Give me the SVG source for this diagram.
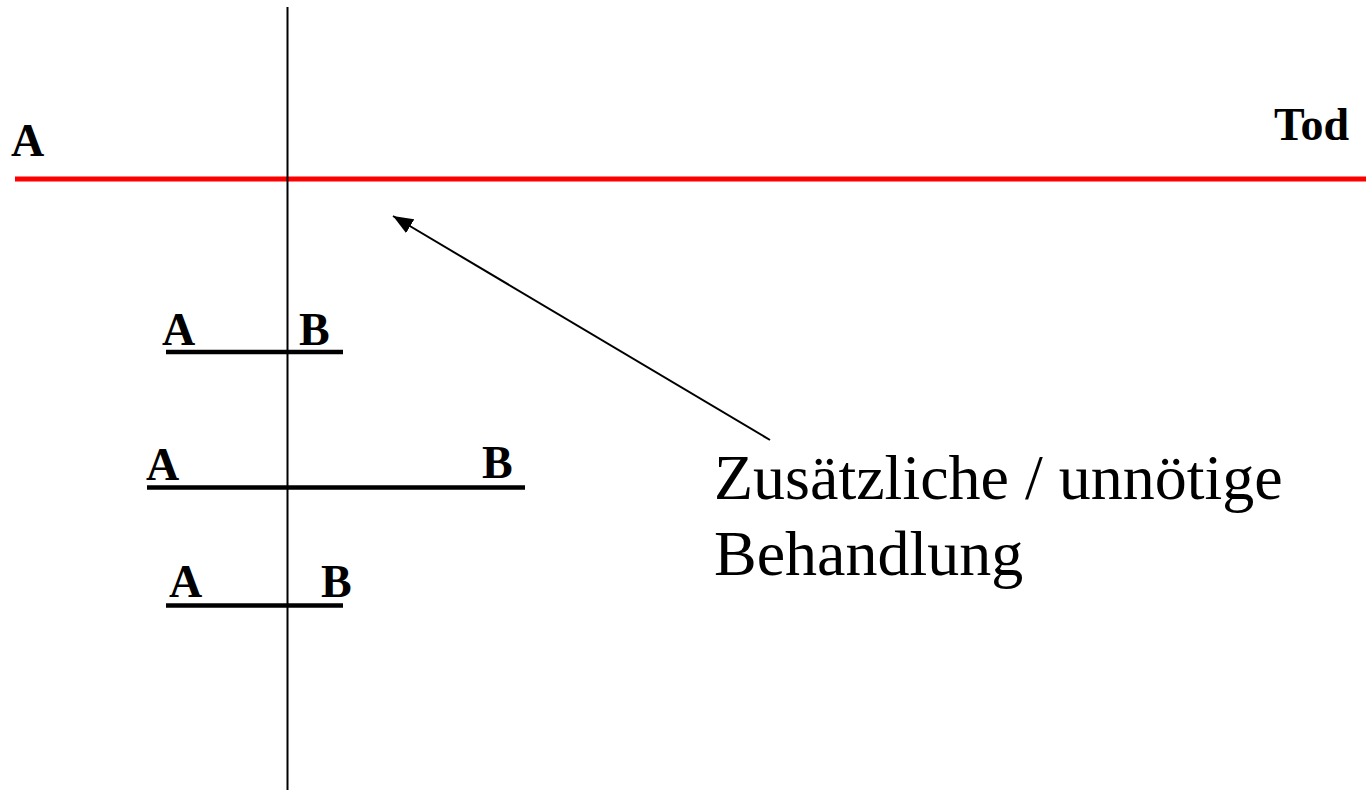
<svg xmlns="http://www.w3.org/2000/svg" width="1366" height="790" viewBox="0 0 1366 790">
<style>
.lbl{font-family:"Liberation Serif","Times New Roman",serif;font-weight:bold;font-size:46px;fill:#000}
.note{font-family:"Liberation Serif","Times New Roman",serif;font-size:64px;fill:#000}
.bar{stroke:#000;stroke-width:4.5;fill:none}
</style>
<defs>
<marker id="ah2" viewBox="0 0 20 16" refX="20" refY="8" markerWidth="20" markerHeight="16" markerUnits="userSpaceOnUse" orient="auto">
<path d="M0,0 L20,8 L0,16 z" fill="#000"/>
</marker>
</defs>
<rect width="1366" height="790" fill="#fff"/>
<g id="connectors">
<line id="timeline" x1="15" y1="179" x2="1366" y2="179" stroke="#f00" stroke-width="5"/>
<line id="cut" x1="287.5" y1="7" x2="287.5" y2="790" stroke="#000" stroke-width="2"/>
<line id="arrow" x1="770" y1="440" x2="393" y2="216" stroke="#000" stroke-width="2" marker-end="url(#ah2)"/>
</g>
<g id="start"><text class="lbl" x="11" y="156">A</text></g>
<g id="tod"><text class="lbl" x="1274" y="140">Tod</text></g>
<g id="row1">
<line class="bar" x1="166" y1="352" x2="343" y2="352"/>
<text class="lbl" x="162" y="345">A</text>
<text class="lbl" x="299" y="345">B</text>
</g>
<g id="row2">
<line class="bar" x1="147" y1="487.5" x2="525" y2="487.5"/>
<text class="lbl" x="146" y="480">A</text>
<text class="lbl" x="482" y="478">B</text>
</g>
<g id="row3">
<line class="bar" x1="166" y1="605.5" x2="343" y2="605.5"/>
<text class="lbl" x="169" y="597">A</text>
<text class="lbl" x="321" y="597">B</text>
</g>
<g id="note">
<text class="note" x="714" y="499">Zusätzliche / unnötige</text>
<text class="note" x="714" y="575">Behandlung</text>
</g>
</svg>
